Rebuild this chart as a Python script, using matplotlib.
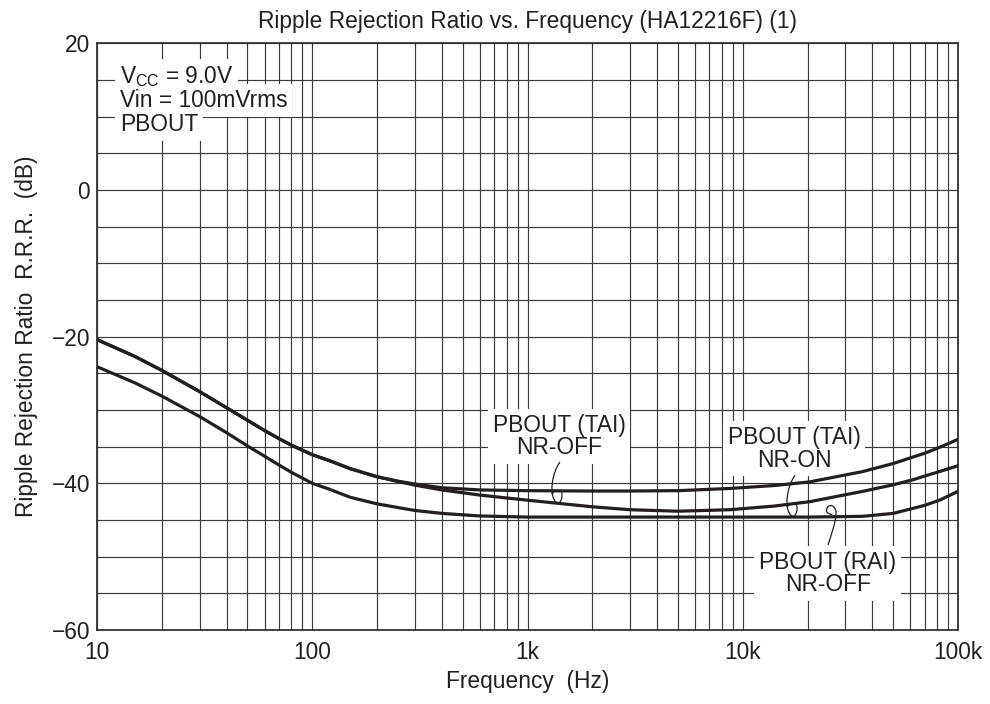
import numpy as np
import matplotlib
matplotlib.use('Agg')
import matplotlib.pyplot as plt
from matplotlib.path import Path
from matplotlib.patches import PathPatch
from matplotlib import transforms
from matplotlib.ticker import FixedLocator, LogLocator, NullFormatter

plt.rcParams['font.family'] = ['Liberation Sans', 'DejaVu Sans']

# DATA
FREQ = [10, 15, 20, 30, 40, 50, 60, 70, 80, 100, 120, 150, 200, 250, 300, 400, 600,
        1000, 2000, 3000, 5000, 8700, 14000, 20500, 36000, 50000, 62000, 70000, 82000, 100000]
TAI_NR_OFF = [-20.4, -22.7, -24.6, -27.5, -29.7, -31.4, -32.8, -33.9, -34.8, -36.1, -36.9, -38.0,
              -39.1, -39.7, -40.1, -40.6, -40.9, -41.0, -41.05, -41.05, -41.0, -40.7, -40.3,
              -39.8, -38.4, -37.3, -36.4, -35.9, -35.1, -34.0]
TAI_NR_ON = [-20.4, -22.7, -24.6, -27.5, -29.7, -31.4, -32.8, -33.9, -34.8, -36.1, -36.9, -38.0,
             -39.1, -39.75, -40.25, -40.9, -41.6, -42.3, -43.2, -43.6, -43.8, -43.6, -43.1,
             -42.5, -41.1, -40.2, -39.5, -39.0, -38.4, -37.6]
RAI_NR_OFF = [-24.1, -26.3, -28.1, -30.9, -33.1, -34.9, -36.3, -37.5, -38.5, -40.0, -40.8, -41.9,
              -42.8, -43.3, -43.7, -44.1, -44.45, -44.6, -44.6, -44.6, -44.6, -44.6, -44.6,
              -44.6, -44.5, -44.1, -43.4, -43.0, -42.3, -41.1]

XTICKS = [10, 100, 1000, 10000, 100000]
XTICK_LABELS = ['10', '100', '1k', '10k', '100k']
YTICKS = [-60, -40, -20, 0, 20]

# curve labels: text, (freq, dB) of label centre
LABELS = [
    ('PBOUT (TAI)\nNR-OFF', 1400, -33.6),
    ('PBOUT (TAI)\nNR-ON', 17300, -35.3),
    ('PBOUT (RAI)\nNR-OFF', 24800, -52.3),
]
# leader squiggle anchors (freq, dB)
SQUIGGLE_AT = [(1416, -37.1), (17500, -38.9), (24900, -48.4)]

INK = '#231f20'
FS = 16.4

fig = plt.figure(figsize=(9.9, 7.04), dpi=100)
ax = fig.add_axes([0.098, 0.1051, 0.8697, 0.8334])

ax.set_xscale('log')
ax.set_xlim(10, 100000)
ax.set_ylim(-60, 20)

ax.xaxis.set_major_locator(FixedLocator(XTICKS))
ax.set_xticklabels(XTICK_LABELS)
ax.xaxis.set_minor_locator(LogLocator(base=10, subs=np.arange(2, 10)))
ax.xaxis.set_minor_formatter(NullFormatter())
ax.set_yticks(YTICKS)
ax.set_yticks(np.arange(-60, 21, 5), minor=True)

ax.tick_params(which='both', length=0, labelsize=FS, colors=INK)
ax.tick_params(axis='x', pad=8)
ax.tick_params(axis='y', pad=5)
ax.grid(True, which='both', color='#3a3a3a', linewidth=0.85, zorder=1)
ax.set_axisbelow(True)
for sp in ax.spines.values():
    sp.set_linewidth(1.3)
    sp.set_color('#333333')

for series in (TAI_NR_OFF, TAI_NR_ON, RAI_NR_OFF):
    ax.plot(FREQ, series, color=INK, lw=2.3, zorder=3, solid_joinstyle='round')

box = dict(facecolor='white', edgecolor='none', pad=3.5)
for txt, fx, fy in LABELS:
    ax.text(fx, fy, txt, ha='center', va='center', fontsize=FS, color=INK,
            linespacing=0.98, bbox=box, zorder=2)

# conditions block: a white mask per line first, then the text on top
cond = ['$\\mathregular{V_{CC}}$ = 9.0V', 'Vin = 100mVrms', 'PBOUT']
for i, line in enumerate(cond):
    y = 0.932 - i * 0.041
    ax.text(0.0267, y, line, transform=ax.transAxes, ha='left', va='baseline',
            fontsize=FS, color='none', bbox=box, zorder=2)
    ax.text(0.0267, y, line, transform=ax.transAxes, ha='left', va='baseline',
            fontsize=FS, color=INK, zorder=2.5)

# leader squiggles, drawn in pixel offsets (y up) from their anchor
px = 1 / 100.0
six = [(0, 0), (-8, -10), (-12, -35), (-3, -41),
       (1, -42), (3, -34), (1.5, -30),
       (0, -27), (-6, -28), (-8, -32)]
nine = [(4, 30), (1, 32), (-3, 31), (-1, 37),
        (1, 41), (7, 40), (8, 33),
        (8, 22), (3, 10), (0, 0)]
codes = [Path.MOVETO] + [Path.CURVE4] * 9
shapes = [six, six, nine]
for (fx, fy), verts in zip(SQUIGGLE_AT, shapes):
    trans = fig.dpi_scale_trans + transforms.ScaledTranslation(fx, fy, ax.transData)
    v = [(a * px, b * px) for a, b in verts]
    ax.add_patch(PathPatch(Path(v, codes), transform=trans, facecolor='none',
                           edgecolor=INK, lw=0.9, zorder=5))

ax.set_title('Ripple Rejection Ratio vs. Frequency (HA12216F) (1)', fontsize=FS,
             color=INK, pad=11)
ax.set_xlabel('Frequency  (Hz)', fontsize=FS, color=INK, labelpad=4)
ax.set_ylabel('Ripple Rejection Ratio  R.R.R.  (dB)', fontsize=FS, color=INK, labelpad=10)

fig.savefig('out.png', dpi=100)
